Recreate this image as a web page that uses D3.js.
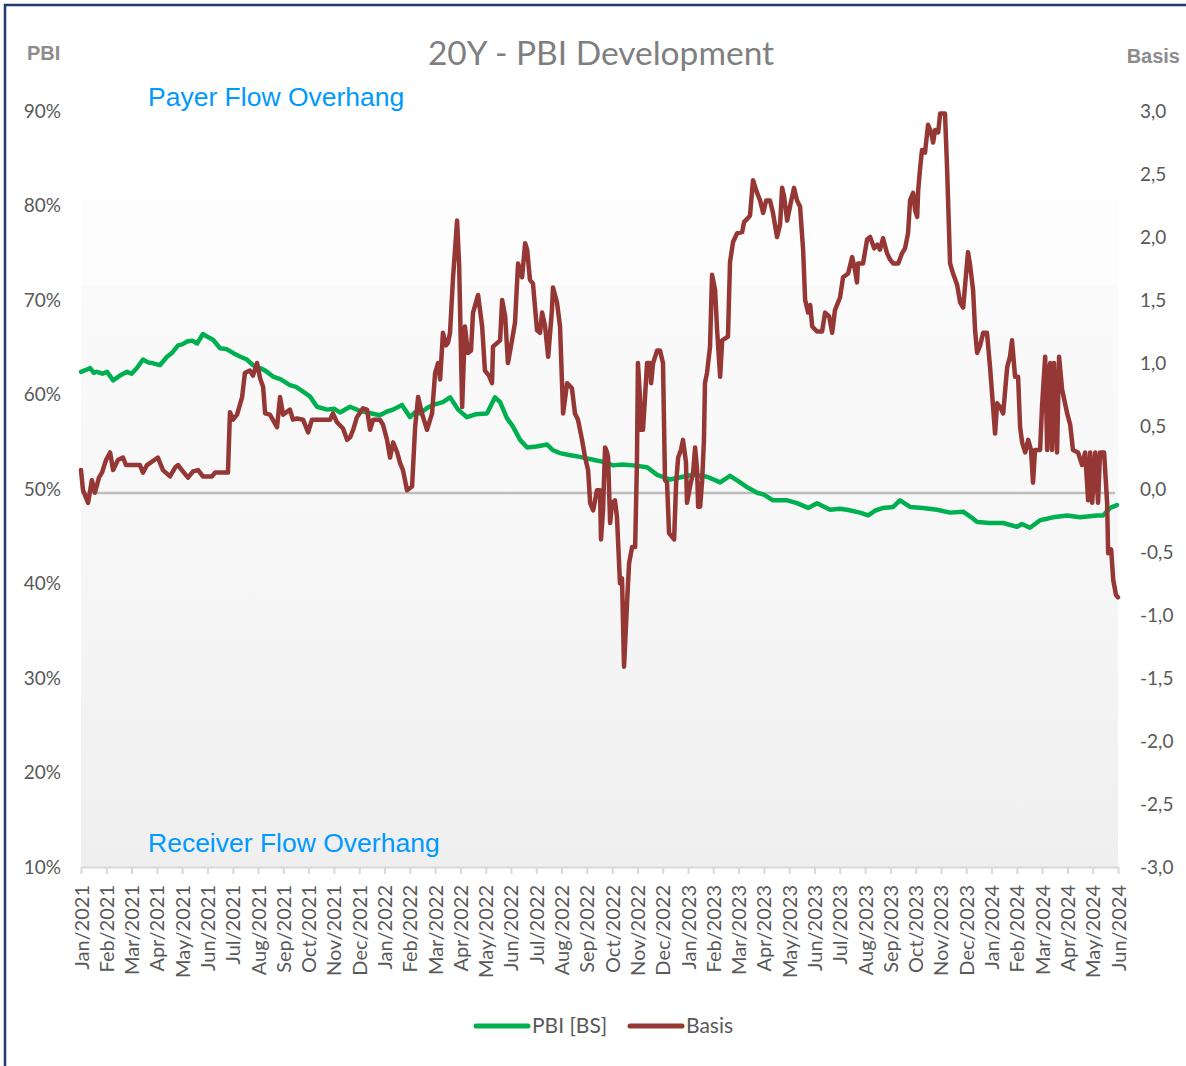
<!DOCTYPE html>
<html>
<head>
<meta charset="utf-8">
<script src="https://cdn.jsdelivr.net/npm/d3@7"></script>
<style>
  body { margin: 0; background: #fff; }
</style>
</head>
<body>
<svg id="chart"></svg>
<script>
const width = 1186;
const height = 1066;

// month tick labels (x axis)
const monthLabels = [
  "Jan/2021","Feb/2021","Mar/2021","Apr/2021","May/2021","Jun/2021","Jul/2021","Aug/2021","Sep/2021","Oct/2021","Nov/2021","Dec/2021",
  "Jan/2022","Feb/2022","Mar/2022","Apr/2022","May/2022","Jun/2022","Jul/2022","Aug/2022","Sep/2022","Oct/2022","Nov/2022","Dec/2022",
  "Jan/2023","Feb/2023","Mar/2023","Apr/2023","May/2023","Jun/2023","Jul/2023","Aug/2023","Sep/2023","Oct/2023","Nov/2023","Dec/2023",
  "Jan/2024","Feb/2024","Mar/2024","Apr/2024","May/2024","Jun/2024"
];
const pbiTicks = [10, 20, 30, 40, 50, 60, 70, 80, 90];
const basisTicks = [-3, -2.5, -2, -1.5, -1, -0.5, 0, 0.5, 1, 1.5, 2, 2.5, 3];

// [months since Jan/2021, PBI %]
const pbiData = [
  [0,62.4],[0.2,62.6],[0.36,62.8],[0.5,62.3],[0.63,62.4],[0.85,62.2],[1.03,62.4],[1.27,61.5],[1.54,62.0],[1.82,62.4],[2.0,62.2],[2.21,62.8],[2.45,63.7],[2.65,63.4],[2.85,63.3],
  [3.12,63.1],[3.40,64.0],[3.6,64.4],[3.84,65.2],[4.0,65.3],[4.19,65.6],[4.4,65.7],[4.59,65.4],[4.82,66.4],[5.0,66.1],[5.22,65.8],[5.50,64.9],[5.75,64.8],[6.01,64.4],[6.3,64.0],[6.56,63.7],
  [6.8,63.1],[7.08,62.8],[7.3,62.5],[7.59,61.9],[7.9,61.6],[8.26,61.0],[8.5,60.8],[8.78,60.3],[9.05,59.8],[9.33,58.7],[9.73,58.4],[10.0,58.5],[10.24,58.1],[10.64,58.7],[11.0,58.3],[11.31,58.1],[11.82,57.8],
  [12.1,58.2],[12.34,58.4],[12.69,58.9],[13.01,57.6],[13.2,58.1],[13.40,58.0],[13.7,58.6],[13.92,58.9],[14.31,59.2],[14.59,59.7],[14.91,58.4],[15.26,57.6],[15.6,57.9],[16.05,58.0],
  [16.37,59.7],[16.57,59.2],[16.84,57.5],[17.08,56.6],[17.36,55.2],[17.64,54.4],[18.0,54.5],[18.43,54.7],[18.66,54.1],[18.94,53.8],[19.3,53.6],[19.73,53.4],
  [20.25,53.1],[20.6,52.9],[21.04,52.5],[21.4,52.6],[21.83,52.5],[22.38,52.3],[22.78,51.5],[23.29,51.0],[23.80,51.3],[24.20,51.5],[24.75,51.3],[25.27,50.7],
  [25.66,51.4],[26.0,50.8],[26.33,50.2],[26.73,49.6],[27.0,49.4],[27.36,48.8],[27.92,48.8],[28.31,48.5],[28.75,48.0],[29.10,48.5],[29.62,47.8],[30.0,47.9],[30.29,47.8],
  [30.80,47.5],[31.12,47.2],[31.4,47.7],[31.71,48.0],[32.11,48.1],[32.38,48.8],[32.78,48.1],[33.29,48.0],[33.85,47.8],[34.36,47.5],[34.88,47.6],
  [35.2,47.0],[35.43,46.5],[35.94,46.4],[36.46,46.4],[37.01,46.0],[37.2,46.3],[37.52,45.9],[37.92,46.7],[38.43,47.0],[38.99,47.2],[39.50,47.0],[40.17,47.2],
  [40.41,47.2],[40.69,48.0],[40.96,48.3]
];

// [months since Jan/2021, Basis]
const basisData = [
  [0,0.15],[0.08,-0.01],[0.28,-0.11],[0.43,0.07],[0.55,-0.03],[0.71,0.09],[0.83,0.13],[0.99,0.23],[1.15,0.29],[1.27,0.15],
  [1.46,0.23],[1.66,0.25],[1.78,0.19],[2.33,0.19],[2.45,0.13],[2.61,0.19],[3.04,0.25],[3.24,0.15],[3.52,0.10],[3.72,0.17],
  [3.84,0.19],[3.99,0.15],[4.23,0.09],[4.43,0.14],[4.63,0.15],[4.82,0.10],[5.18,0.10],[5.30,0.13],[5.81,0.13],[5.89,0.61],
  [6.01,0.55],[6.17,0.59],[6.37,0.73],[6.48,0.92],[6.68,0.94],[6.80,0.90],[6.96,1.00],[7.08,0.88],[7.20,0.81],[7.28,0.60],
  [7.47,0.59],[7.75,0.49],[7.87,0.73],[7.99,0.59],[8.26,0.63],[8.38,0.55],[8.54,0.56],[8.78,0.55],[8.98,0.45],[9.13,0.55],
  [9.85,0.55],[9.96,0.60],[10.12,0.53],[10.36,0.48],[10.52,0.39],[10.64,0.41],[10.76,0.47],[10.91,0.57],[11.15,0.64],[11.31,0.63],
  [11.43,0.47],[11.55,0.55],[11.82,0.55],[11.94,0.51],[12.10,0.39],[12.22,0.25],[12.34,0.37],[12.50,0.29],[12.61,0.21],[12.73,0.15],
  [12.89,-0.01],[13.09,0.02],[13.21,0.49],[13.33,0.73],[13.48,0.60],[13.68,0.47],[13.88,0.60],[14.00,0.92],[14.12,1.00],[14.20,0.87],
  [14.31,1.24],[14.43,1.14],[14.51,1.16],[14.59,1.24],[14.71,1.68],[14.87,2.13],[14.95,1.78],[15.07,0.65],[15.18,1.29],[15.30,1.08],
  [15.42,1.10],[15.50,1.40],[15.70,1.54],[15.86,1.29],[15.97,0.94],[16.13,0.90],[16.25,0.84],[16.29,1.13],[16.57,1.18],[16.65,1.50],
  [16.77,1.37],[16.88,1.00],[17.04,1.18],[17.16,1.32],[17.28,1.79],[17.44,1.68],[17.56,1.95],[17.64,1.90],[17.75,1.66],[17.87,1.63],
  [18.03,1.26],[18.15,1.24],[18.23,1.40],[18.35,1.29],[18.47,1.05],[18.62,1.42],[18.66,1.60],[18.82,1.48],[18.94,1.29],[19.06,0.60],
  [19.22,0.84],[19.41,0.80],[19.53,0.60],[19.65,0.55],[19.81,0.39],[19.93,0.25],[20.05,0.15],[20.13,-0.11],[20.25,-0.17],[20.40,-0.01],
  [20.52,-0.01],[20.56,-0.40],[20.64,-0.17],[20.72,0.33],[20.80,0.29],[20.84,0.25],[20.92,-0.27],[21.00,-0.11],[21.11,-0.09],[21.19,-0.22],
  [21.31,-0.75],[21.39,-0.71],[21.47,-1.41],[21.59,-0.90],[21.67,-0.59],[21.79,-0.46],[21.91,-0.46],[21.98,0.21],[22.02,1.00],[22.10,0.73],
  [22.14,0.47],[22.22,0.47],[22.30,0.73],[22.38,1.00],[22.50,1.00],[22.54,0.84],[22.62,1.00],[22.78,1.10],[22.89,1.10],[23.01,1.00],
  [23.09,0.07],[23.17,0.05],[23.25,-0.35],[23.37,-0.38],[23.45,-0.40],[23.53,0.05],[23.61,0.25],[23.72,0.31],[23.80,0.39],[23.92,0.21],
  [23.96,-0.11],[24.08,0.02],[24.20,0.13],[24.28,0.33],[24.36,0.15],[24.40,-0.14],[24.48,-0.14],[24.56,0.07],[24.63,0.39],[24.67,0.84],
  [24.75,0.92],[24.87,1.13],[24.95,1.70],[25.07,1.58],[25.15,1.26],[25.27,0.89],[25.35,1.18],[25.58,1.21],[25.66,1.80],[25.78,1.96],
  [25.94,2.03],[26.14,2.04],[26.22,2.12],[26.37,2.15],[26.45,2.17],[26.57,2.45],[26.73,2.35],[26.85,2.29],[26.97,2.19],[27.09,2.29],
  [27.24,2.29],[27.36,2.19],[27.52,2.00],[27.64,2.10],[27.72,2.39],[27.80,2.32],[27.92,2.13],[28.03,2.24],[28.19,2.39],[28.31,2.29],
  [28.43,2.24],[28.55,1.90],[28.63,1.50],[28.75,1.40],[28.83,1.46],[28.91,1.29],[29.10,1.25],[29.30,1.25],[29.42,1.40],[29.58,1.37],
  [29.70,1.24],[29.81,1.42],[30.01,1.52],[30.13,1.68],[30.33,1.71],[30.49,1.84],[30.60,1.74],[30.68,1.64],[30.72,1.79],[30.92,1.79],
  [31.08,1.98],[31.20,2.00],[31.36,1.91],[31.48,1.94],[31.59,1.90],[31.71,1.99],[31.87,1.87],[31.99,1.82],[32.11,1.79],[32.31,1.79],
  [32.46,1.87],[32.58,1.91],[32.70,2.03],[32.78,2.29],[32.90,2.35],[32.98,2.21],[33.06,2.16],[33.10,2.37],[33.17,2.53],[33.25,2.69],
  [33.37,2.67],[33.49,2.89],[33.61,2.83],[33.69,2.75],[33.77,2.85],[33.89,2.83],[33.97,2.98],[34.16,2.98],[34.24,2.56],[34.36,1.79],
  [34.48,1.71],[34.64,1.62],[34.76,1.48],[34.88,1.44],[34.96,1.63],[35.07,1.88],[35.15,1.78],[35.27,1.58],[35.35,1.26],[35.43,1.08],
  [35.55,1.14],[35.67,1.24],[35.82,1.24],[35.94,0.97],[36.02,0.76],[36.14,0.44],[36.22,0.68],[36.34,0.65],[36.46,0.60],[36.62,0.97],
  [36.73,1.05],[36.81,1.18],[36.93,0.89],[37.05,0.89],[37.13,0.49],[37.21,0.37],[37.33,0.29],[37.45,0.39],[37.56,0.31],[37.64,0.05],
  [37.72,0.31],[37.92,0.31],[38.00,0.67],[38.12,1.05],[38.20,0.31],[38.24,0.90],[38.32,1.00],[38.39,0.31],[38.47,1.00],[38.59,0.29],
  [38.67,1.05],[38.79,0.79],[38.99,0.60],[39.11,0.51],[39.22,0.31],[39.42,0.29],[39.58,0.19],[39.70,0.29],[39.82,-0.09],[39.90,0.29],
  [39.98,-0.11],[40.10,0.29],[40.21,-0.11],[40.29,0.29],[40.45,0.29],[40.57,-0.11],[40.61,-0.51],[40.73,-0.48],[40.81,-0.72],[40.92,-0.84],
  [41.00,-0.86]
];

const pbiColor = "#00b050";
const basisColor = "#953735";
const labelColor = "#595959";
const bodyFont = "Lato, 'Open Sans', sans-serif";
const arialFont = "'Liberation Sans', Arial, sans-serif";

const plot = { left: 81, right: 1118, top: 111, bottom: 867 };

const svg = d3.select("#chart")
  .attr("width", width)
  .attr("height", height);

const x = d3.scaleLinear()
  .domain([0, monthLabels.length - 1])
  .range([plot.left, plot.right]);

const yL = d3.scaleLinear().domain([10, 90]).range([plot.bottom, plot.top]);
const yR = d3.scaleLinear().domain([-3, 3]).range([plot.bottom, plot.top]);

const comma = d3.formatLocale({ decimal: ",", thousands: ".", grouping: [3], currency: ["", ""], minus: "-" });

// background gradient
const defs = svg.append("defs");
const grad = defs.append("linearGradient")
  .attr("id", "bg").attr("x1", 0).attr("y1", 0).attr("x2", 0).attr("y2", 1);
grad.append("stop").attr("offset", "0%").attr("stop-color", "#fdfdfd");
grad.append("stop").attr("offset", "13%").attr("stop-color", "#fdfdfd");
grad.append("stop").attr("offset", "13.1%").attr("stop-color", "#fafafa");
grad.append("stop").attr("offset", "44%").attr("stop-color", "#f8f8f8");
grad.append("stop").attr("offset", "100%").attr("stop-color", "#efefef");

defs.append("filter").attr("id", "blur")
  .attr("y", "-200%").attr("height", "500%")
  .append("feGaussianBlur").attr("stdDeviation", 2.5);

svg.append("rect")
  .attr("x", plot.left).attr("y", 198)
  .attr("width", plot.right - plot.left)
  .attr("height", plot.bottom - 198)
  .attr("fill", "url(#bg)");

// 50% reference line with shadow
svg.append("line")
  .attr("x1", plot.left).attr("x2", plot.right - 3)
  .attr("y1", yL(50) + 7).attr("y2", yL(50) + 7)
  .attr("stroke", "#d6d6d6").attr("stroke-width", 6)
  .attr("filter", "url(#blur)");
svg.append("line")
  .attr("x1", plot.left).attr("x2", plot.right - 3)
  .attr("y1", yL(50) + 4).attr("y2", yL(50) + 4)
  .attr("stroke", "#bdbdbd").attr("stroke-width", 2.5);

// x axis
const xAxis = svg.append("g")
  .attr("transform", `translate(0,${plot.bottom})`)
  .call(d3.axisBottom(x)
    .tickValues(d3.range(monthLabels.length))
    .tickFormat(i => monthLabels[i])
    .tickSize(7)
    .tickSizeOuter(0));
xAxis.select(".domain").attr("stroke", "#d9d9d9").attr("stroke-width", 2);
xAxis.selectAll(".tick line").attr("stroke", "#d9d9d9").attr("stroke-width", 2);
xAxis.selectAll(".tick text")
  .attr("fill", labelColor)
  .attr("font-size", 20)
  .attr("font-family", bodyFont)
  .attr("text-anchor", "end")
  .attr("dy", "0.35em")
  .attr("transform", "translate(0,18) rotate(-90)")
  .attr("x", 0).attr("y", 0);

// left axis
const leftAxis = svg.append("g")
  .attr("transform", "translate(61,0)")
  .call(d3.axisLeft(yL).tickValues(pbiTicks).tickFormat(d => d + "%").tickSize(0).tickPadding(0));
leftAxis.select(".domain").remove();
leftAxis.selectAll("text")
  .attr("fill", labelColor).attr("font-size", 19).attr("font-family", bodyFont);

// right axis
const rightAxis = svg.append("g")
  .attr("transform", "translate(1140,0)")
  .call(d3.axisRight(yR).tickValues(basisTicks).tickFormat(comma.format(".1f")).tickSize(0).tickPadding(0));
rightAxis.select(".domain").remove();
rightAxis.selectAll("text")
  .attr("fill", labelColor).attr("font-size", 19).attr("font-family", bodyFont);

// lines
const pbiLine = d3.line().x(d => x(d[0])).y(d => yL(d[1]));
const basisLine = d3.line().x(d => x(d[0])).y(d => yR(d[1]));

svg.append("path")
  .datum(pbiData)
  .attr("fill", "none")
  .attr("stroke", pbiColor)
  .attr("stroke-width", 4.5)
  .attr("stroke-linejoin", "round")
  .attr("stroke-linecap", "round")
  .attr("d", pbiLine);

svg.append("path")
  .datum(basisData)
  .attr("fill", "none")
  .attr("stroke", basisColor)
  .attr("stroke-width", 4.5)
  .attr("stroke-linejoin", "round")
  .attr("stroke-linecap", "round")
  .attr("d", basisLine);

// title and axis titles
svg.append("text")
  .attr("x", 601).attr("y", 65)
  .attr("text-anchor", "middle")
  .attr("font-family", bodyFont)
  .attr("font-size", 33.5)
  .attr("fill", "#7f7f7f")
  .text("20Y - PBI Development");

svg.append("text")
  .attr("x", 27).attr("y", 60)
  .attr("font-family", arialFont)
  .attr("font-weight", "bold")
  .attr("font-size", 20)
  .attr("fill", "#8c8c8c")
  .text("PBI");

svg.append("text")
  .attr("x", 1180).attr("y", 63)
  .attr("text-anchor", "end")
  .attr("font-family", arialFont)
  .attr("font-weight", "bold")
  .attr("font-size", 20)
  .attr("fill", "#8c8c8c")
  .text("Basis");

// annotations
svg.append("text")
  .attr("x", 148).attr("y", 106)
  .attr("font-family", arialFont)
  .attr("font-size", 26.5)
  .attr("fill", "#0099ff")
  .text("Payer Flow Overhang");

svg.append("text")
  .attr("x", 148).attr("y", 852)
  .attr("font-family", arialFont)
  .attr("font-size", 26.5)
  .attr("fill", "#0099ff")
  .text("Receiver Flow Overhang");

// legend
const legend = svg.append("g").attr("transform", "translate(0,1026)");
const legendItems = [
  { label: "PBI [BS]", color: pbiColor, x: 476 },
  { label: "Basis", color: basisColor, x: 630 }
];
legendItems.forEach(item => {
  legend.append("line")
    .attr("x1", item.x).attr("x2", item.x + 52)
    .attr("y1", 0).attr("y2", 0)
    .attr("stroke", item.color)
    .attr("stroke-width", 5)
    .attr("stroke-linecap", "round");
  legend.append("text")
    .attr("x", item.x + 56).attr("y", 0)
    .attr("dy", "0.35em")
    .attr("font-family", bodyFont)
    .attr("font-size", 21)
    .attr("fill", labelColor)
    .text(item.label);
});

// outer border
svg.append("rect")
  .attr("x", 5).attr("y", 5)
  .attr("width", 1300).attr("height", 1200)
  .attr("fill", "none")
  .attr("stroke", "#1f3a6e")
  .attr("stroke-width", 2.5);
</script>
</body>
</html>
